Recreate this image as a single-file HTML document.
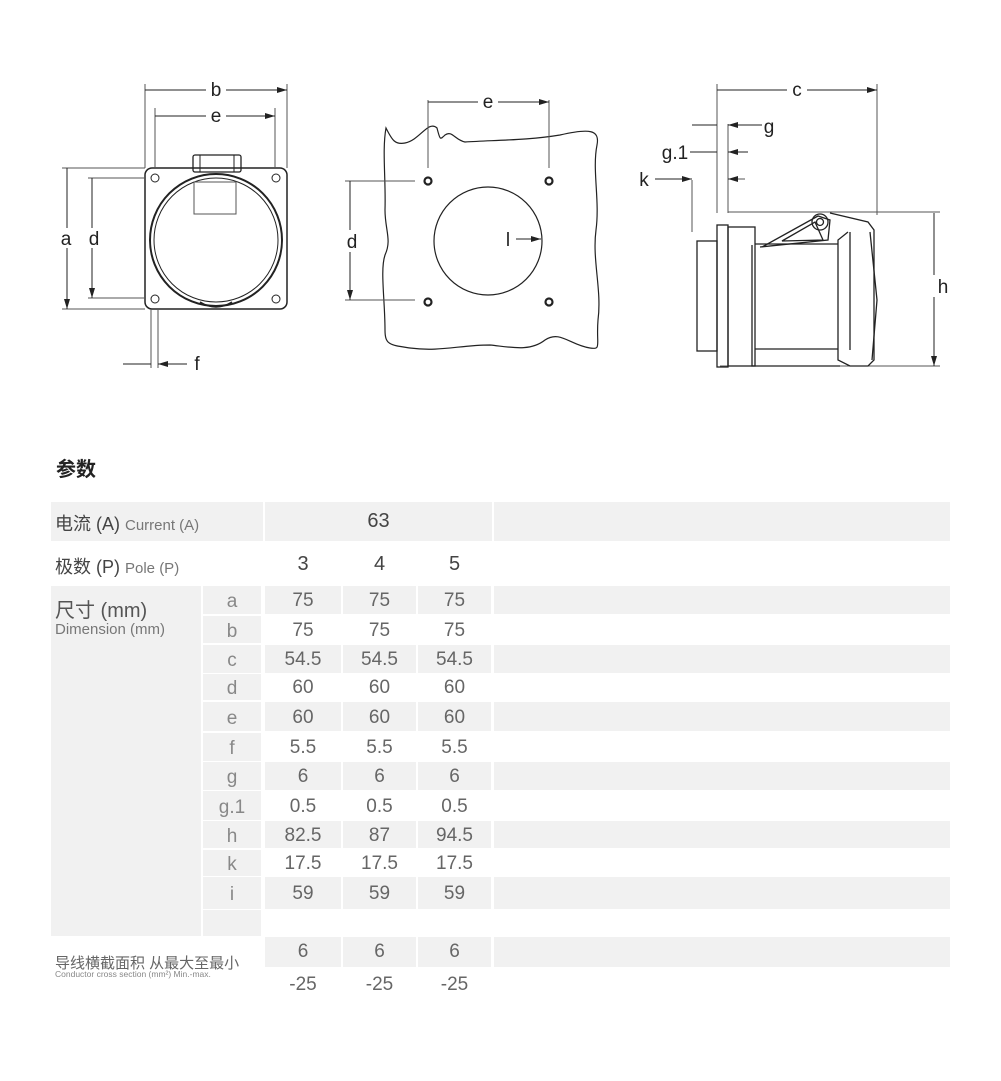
<!DOCTYPE html>
<html><head><meta charset="utf-8"><style>
body{margin:0;width:1001px;height:1081px;background:#fff;position:relative;overflow:hidden;font-family:"Liberation Sans","Noto Sans CJK SC",sans-serif;color:#555}
.c{position:absolute;background:#f1f1f1}
.t{position:absolute;text-align:center;font-size:19px;color:#666}
.l{position:absolute;color:#555}
svg{position:absolute;left:0;top:0}
</style></head><body>
<svg width="1001" height="420" viewBox="0 0 1001 420" font-family="Liberation Sans, sans-serif" fill="none" stroke="#222" stroke-width="1">
<defs><marker id="a" viewBox="0 0 10 6" refX="10" refY="3" markerWidth="10" markerHeight="6" orient="auto-start-reverse" markerUnits="userSpaceOnUse"><path d="M0 0L10 3L0 6z" fill="#222" stroke="none"/></marker></defs>
<rect x="145" y="168" width="142" height="141" rx="7" stroke-width="1.5"/>
<circle cx="216" cy="240" r="66" stroke-width="2"/>
<circle cx="216" cy="240" r="62"/>
<rect x="193" y="155" width="48" height="17" rx="2" stroke-width="1.3"/>
<rect x="200" y="155" width="34" height="17"/>
<rect x="194" y="182" width="42" height="32" stroke="#555"/>
<path d="M200 302 Q216 312 232 302" stroke-width="1.5"/>
<circle cx="155" cy="178" r="4"/><circle cx="276" cy="178" r="4"/><circle cx="155" cy="299" r="4"/><circle cx="276" cy="299" r="4"/>
<path d="M145 168V84M287 168V84M155 168V108M275 168V108M145 168H62M145 309H62M145 178H88M145 298H88M151 309V368M158 309V368" stroke="#555"/>
<path d="M206 90H145M226 90H287" marker-end="url(#a)"/>
<path d="M206 116H155M226 116H275" marker-end="url(#a)"/>
<path d="M67 228V168M67 248V309" marker-end="url(#a)"/>
<path d="M92 228V178M92 248V298" marker-end="url(#a)"/>
<path d="M123 364H151M187 364H158" marker-end="url(#a)"/>
<g fill="#222" stroke="none" font-size="19" text-anchor="middle"><text x="216" y="96">b</text><text x="216" y="122">e</text><text x="66" y="245">a</text><text x="94" y="245">d</text><text x="197" y="370">f</text></g>
<path d="M386 128 C392 140 395 145 405 143 C420 140 428 120 437 128 C440 140 440 140 445 135 C452 130 455 140 465 142 C500 140 530 140 560 135 C590 128 600 130 597 145 C592 170 600 200 596 230 C592 260 602 290 598 320 C596 345 602 350 590 348 C570 345 560 330 545 340 C530 352 510 347 490 345 C460 345 440 352 410 348 C390 345 385 345 385 330 C385 300 380 270 385 255 C392 240 385 230 385 210 C386 180 382 150 386 128Z" stroke-width="1.2"/>
<circle cx="488" cy="241" r="54" stroke-width="1.2"/>
<g stroke-width="2.2"><circle cx="428" cy="181" r="3.5"/><circle cx="549" cy="181" r="3.5"/><circle cx="428" cy="302" r="3.5"/><circle cx="549" cy="302" r="3.5"/></g>
<path d="M428 100V168M549 100V168M345 181H415M345 300H415" stroke="#555"/>
<path d="M478 102H428M498 102H549" marker-end="url(#a)"/>
<path d="M350 230V181M350 252V300" marker-end="url(#a)"/>
<path d="M516 239H541" marker-end="url(#a)"/>
<g fill="#222" stroke="none" font-size="19" text-anchor="middle"><text x="488" y="108">e</text><text x="352" y="248">d</text><text x="508" y="246">l</text></g>
<path d="M717 84V213M877 84V215M728 124V213M692 180V232M728 212H940M720 366H940" stroke="#555"/>
<path d="M787 90H717M807 90H877" marker-end="url(#a)"/>
<path d="M692 125H717M762 125H728" marker-end="url(#a)"/>
<path d="M690 152H717M748 152H728" marker-end="url(#a)"/>
<path d="M745 179H728" stroke="#555"/>
<path d="M738 179H728" marker-end="url(#a)"/>
<path d="M655 179H692" marker-end="url(#a)"/>
<path d="M934 275V213M934 297V366" marker-end="url(#a)"/>
<g stroke-width="1.3">
<rect x="717" y="225" width="11" height="142"/>
<rect x="697" y="241" width="20" height="110"/>
<rect x="728" y="227" width="27" height="139"/>
<path d="M755 244H838M755 349H838M752 245V366H840"/>
<path d="M762 247L818 216L830 220L828 240L760 247M782 241L815 222L823 240Z"/>
<circle cx="820" cy="222" r="8"/><circle cx="820" cy="222" r="3.5"/>
<path d="M830 213L868 222L874 230L874 360L868 366L850 366L838 360L838 240L848 232"/>
<path d="M850 232L850 350M870 232L877 300L872 360"/>
</g>
<g fill="#222" stroke="none" font-size="19" text-anchor="middle"><text x="797" y="96">c</text><text x="769" y="133">g</text><text x="675" y="159">g.1</text><text x="644" y="186">k</text><text x="943" y="293">h</text></g>
</svg>
<div class="l" style="left:56px;top:453px;font-size:20px;font-weight:bold;color:#222">参数</div>

<div class="c" style="left:51px;top:502px;width:212px;height:39px"></div>
<div class="c" style="left:265px;top:502px;width:227px;height:39px"></div>
<div class="c" style="left:494px;top:502px;width:456px;height:39px"></div>
<div class="c" style="left:51px;top:586px;width:150px;height:350px"></div>
<div id="rows"></div>
<script>
var r=[["a","75","75","75",586,614,1],["b","75","75","75",616,643,0],["c","54.5","54.5","54.5",645,673,1],["d","60","60","60",674,700,0],["e","60","60","60",702,731,1],["f","5.5","5.5","5.5",733,761,0],["g","6","6","6",762,790,1],["g.1","0.5","0.5","0.5",791,820,0],["h","82.5","87","94.5",821,848,1],["k","17.5","17.5","17.5",850,876,0],["i","59","59","59",877,909,1],["","","","",910,936,-1]];
var h="";var xs=[[265,76],[343,73],[418,73]];
r.forEach(function(q){var t=q[4],ht=q[5]-q[4];
h+='<div class="c" style="left:203px;top:'+t+'px;width:58px;height:'+ht+'px"></div>';
h+='<div class="t" style="left:203px;top:'+(t+2)+'px;width:58px;line-height:'+ht+'px;color:#888">'+q[0]+'</div>';
for(var i=0;i<3;i++){if(q[6]==1)h+='<div class="c" style="left:'+xs[i][0]+'px;top:'+t+'px;width:'+xs[i][1]+'px;height:'+ht+'px"></div>';
h+='<div class="t" style="left:'+xs[i][0]+'px;top:'+(t+1)+'px;width:'+xs[i][1]+'px;line-height:'+ht+'px">'+q[i+1]+'</div>';}
if(q[6]==1)h+='<div class="c" style="left:494px;top:'+t+'px;width:456px;height:'+ht+'px"></div>';});
for(var i=0;i<3;i++)h+='<div class="c" style="left:'+xs[i][0]+'px;top:937px;width:'+xs[i][1]+'px;height:30px"></div>';
h+='<div class="c" style="left:494px;top:937px;width:456px;height:30px"></div>';
document.getElementById("rows").outerHTML=h;
</script>
<div class="t" style="left:265px;top:502px;width:227px;line-height:39px;font-size:20px;color:#444">63</div>
<div class="t" style="left:265px;top:545px;width:76px;line-height:39px;font-size:20px;color:#444">3</div>
<div class="t" style="left:343px;top:545px;width:73px;line-height:39px;font-size:20px;color:#444">4</div>
<div class="t" style="left:418px;top:545px;width:73px;line-height:39px;font-size:20px;color:#444">5</div>
<div class="t" style="left:265px;top:937px;width:76px;line-height:30px">6</div>
<div class="t" style="left:343px;top:937px;width:73px;line-height:30px">6</div>
<div class="t" style="left:418px;top:937px;width:73px;line-height:30px">6</div>
<div class="t" style="left:265px;top:970px;width:76px;line-height:30px">-25</div>
<div class="t" style="left:343px;top:970px;width:73px;line-height:30px">-25</div>
<div class="t" style="left:418px;top:970px;width:73px;line-height:30px">-25</div>
<div class="l" style="left:55px;top:510px;font-size:18px;color:#444;white-space:nowrap">电流 (A) <span style="font-size:15px;color:#777">Current (A)</span></div>
<div class="l" style="left:55px;top:553px;font-size:18px;color:#444;white-space:nowrap">极数 (P) <span style="font-size:15px;color:#777">Pole (P)</span></div>
<div class="l" style="left:55px;top:594px;font-size:20px;color:#555">尺寸 (mm)</div>
<div class="l" style="left:55px;top:621px;font-size:15px;color:#777">Dimension (mm)</div>
<div class="l" style="left:55px;top:952px;font-size:15px;color:#666;white-space:nowrap">导线横截面积 从最大至最小</div>
<div class="l" style="left:55px;top:969px;font-size:8.5px;color:#888;white-space:nowrap">Conductor cross section (mm²) Min.-max.</div>
</body></html>
